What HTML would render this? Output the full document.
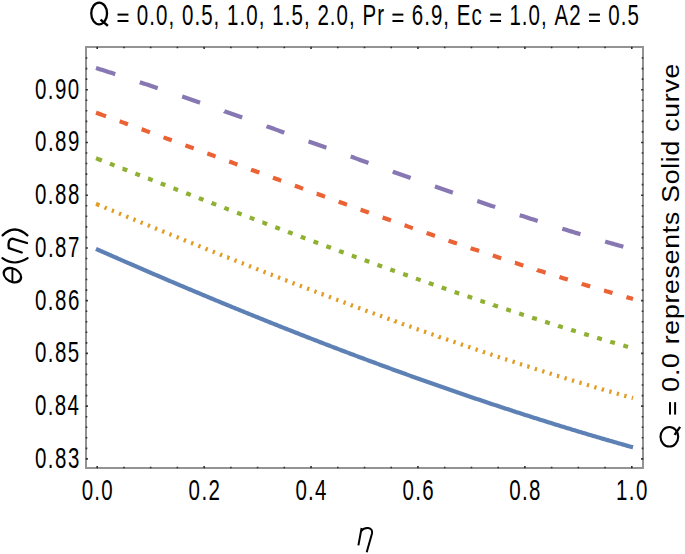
<!DOCTYPE html>
<html><head><meta charset="utf-8"><style>html,body{margin:0;padding:0;background:#fff;overflow:hidden}svg{display:block}</style></head>
<body><svg width="685" height="554" viewBox="0 0 685 554">
<rect width="685" height="554" fill="#fff"/>
<rect x="86" y="47" width="557" height="421" fill="none" stroke="#939393" stroke-width="2"/>
<path d="M97.20,468.3v-2.1999999999999997M97.20,46.7v2.1999999999999997M123.93,468.3v-1.6M123.93,46.7v1.6M150.66,468.3v-1.6M150.66,46.7v1.6M177.39,468.3v-1.6M177.39,46.7v1.6M204.12,468.3v-2.1999999999999997M204.12,46.7v2.1999999999999997M230.85,468.3v-1.6M230.85,46.7v1.6M257.58,468.3v-1.6M257.58,46.7v1.6M284.31,468.3v-1.6M284.31,46.7v1.6M311.04,468.3v-2.1999999999999997M311.04,46.7v2.1999999999999997M337.77,468.3v-1.6M337.77,46.7v1.6M364.50,468.3v-1.6M364.50,46.7v1.6M391.23,468.3v-1.6M391.23,46.7v1.6M417.96,468.3v-2.1999999999999997M417.96,46.7v2.1999999999999997M444.69,468.3v-1.6M444.69,46.7v1.6M471.42,468.3v-1.6M471.42,46.7v1.6M498.15,468.3v-1.6M498.15,46.7v1.6M524.88,468.3v-2.1999999999999997M524.88,46.7v2.1999999999999997M551.61,468.3v-1.6M551.61,46.7v1.6M578.34,468.3v-1.6M578.34,46.7v1.6M605.07,468.3v-1.6M605.07,46.7v1.6M631.80,468.3v-2.1999999999999997M631.80,46.7v2.1999999999999997M85.7,458.90h2.1999999999999997M643.3,458.90h-2.1999999999999997M85.7,448.35h1.6M643.3,448.35h-1.6M85.7,437.80h1.6M643.3,437.80h-1.6M85.7,427.25h1.6M643.3,427.25h-1.6M85.7,416.71h1.6M643.3,416.71h-1.6M85.7,406.16h2.1999999999999997M643.3,406.16h-2.1999999999999997M85.7,395.61h1.6M643.3,395.61h-1.6M85.7,385.06h1.6M643.3,385.06h-1.6M85.7,374.51h1.6M643.3,374.51h-1.6M85.7,363.96h1.6M643.3,363.96h-1.6M85.7,353.41h2.1999999999999997M643.3,353.41h-2.1999999999999997M85.7,342.87h1.6M643.3,342.87h-1.6M85.7,332.32h1.6M643.3,332.32h-1.6M85.7,321.77h1.6M643.3,321.77h-1.6M85.7,311.22h1.6M643.3,311.22h-1.6M85.7,300.67h2.1999999999999997M643.3,300.67h-2.1999999999999997M85.7,290.12h1.6M643.3,290.12h-1.6M85.7,279.57h1.6M643.3,279.57h-1.6M85.7,269.03h1.6M643.3,269.03h-1.6M85.7,258.48h1.6M643.3,258.48h-1.6M85.7,247.93h2.1999999999999997M643.3,247.93h-2.1999999999999997M85.7,237.38h1.6M643.3,237.38h-1.6M85.7,226.83h1.6M643.3,226.83h-1.6M85.7,216.28h1.6M643.3,216.28h-1.6M85.7,205.73h1.6M643.3,205.73h-1.6M85.7,195.19h2.1999999999999997M643.3,195.19h-2.1999999999999997M85.7,184.64h1.6M643.3,184.64h-1.6M85.7,174.09h1.6M643.3,174.09h-1.6M85.7,163.54h1.6M643.3,163.54h-1.6M85.7,152.99h1.6M643.3,152.99h-1.6M85.7,142.44h2.1999999999999997M643.3,142.44h-2.1999999999999997M85.7,131.89h1.6M643.3,131.89h-1.6M85.7,121.35h1.6M643.3,121.35h-1.6M85.7,110.80h1.6M643.3,110.80h-1.6M85.7,100.25h1.6M643.3,100.25h-1.6M85.7,89.70h2.1999999999999997M643.3,89.70h-2.1999999999999997M85.7,79.15h1.6M643.3,79.15h-1.6M85.7,68.60h1.6M643.3,68.60h-1.6M85.7,58.05h1.6M643.3,58.05h-1.6" stroke="#2e2e2e" stroke-width="1.6" fill="none"/>
<g fill="none" stroke-width="4.2" stroke-linecap="butt" stroke-linejoin="round"><path d="M96.00,248.90 L96.18,248.98 L97.61,249.61 L99.04,250.24 L100.48,250.88 L101.91,251.51 L103.34,252.14 L104.77,252.77 L106.21,253.40 L107.64,254.03 L109.07,254.66 L110.50,255.29 L111.94,255.92 L113.37,256.55 L114.80,257.18 L116.23,257.80 L117.67,258.43 L119.10,259.06 L120.53,259.68 L121.96,260.31 L123.40,260.93 L124.83,261.56 L126.26,262.18 L127.69,262.81 L129.13,263.43 L130.56,264.05 L131.99,264.68 L133.42,265.30 L134.86,265.92 L136.29,266.54 L137.72,267.16 L139.15,267.78 L140.59,268.40 L142.02,269.02 L143.45,269.64 L144.88,270.26 L146.32,270.88 L147.75,271.49 L149.18,272.11 L150.61,272.73 L152.05,273.34 L153.48,273.96 L154.91,274.57 L156.34,275.19 L157.78,275.80 L159.21,276.42 L160.64,277.03 L162.07,277.64 L163.51,278.26 L164.94,278.87 L166.37,279.48 L167.80,280.09 L169.24,280.70 L170.67,281.31 L172.10,281.92 L173.53,282.53 L174.97,283.14 L176.40,283.75 L177.83,284.35 L179.26,284.96 L180.70,285.57 L182.13,286.17 L183.56,286.78 L184.99,287.38 L186.43,287.99 L187.86,288.59 L189.29,289.20 L190.72,289.80 L192.16,290.40 L193.59,291.00 L195.02,291.61 L196.45,292.21 L197.88,292.81 L199.32,293.41 L200.75,294.01 L202.18,294.61 L203.61,295.21 L205.05,295.80 L206.48,296.40 L207.91,297.00 L209.34,297.59 L210.78,298.19 L212.21,298.79 L213.64,299.38 L215.07,299.98 L216.51,300.57 L217.94,301.16 L219.37,301.76 L220.80,302.35 L222.24,302.94 L223.67,303.53 L225.10,304.12 L226.53,304.71 L227.97,305.30 L229.40,305.89 L230.83,306.48 L232.26,307.07 L233.70,307.66 L235.13,308.25 L236.56,308.83 L237.99,309.42 L239.43,310.01 L240.86,310.59 L242.29,311.18 L243.72,311.76 L245.16,312.34 L246.59,312.93 L248.02,313.51 L249.45,314.09 L250.89,314.67 L252.32,315.25 L253.75,315.83 L255.18,316.41 L256.62,316.99 L258.05,317.57 L259.48,318.15 L260.91,318.73 L262.35,319.30 L263.78,319.88 L265.21,320.46 L266.64,321.03 L268.08,321.61 L269.51,322.18 L270.94,322.76 L272.37,323.33 L273.81,323.90 L275.24,324.47 L276.67,325.05 L278.10,325.62 L279.54,326.19 L280.97,326.76 L282.40,327.33 L283.83,327.90 L285.27,328.46 L286.70,329.03 L288.13,329.60 L289.56,330.17 L291.00,330.73 L292.43,331.30 L293.86,331.86 L295.29,332.43 L296.73,332.99 L298.16,333.55 L299.59,334.12 L301.02,334.68 L302.46,335.24 L303.89,335.80 L305.32,336.36 L306.75,336.92 L308.19,337.48 L309.62,338.04 L311.05,338.60 L312.48,339.15 L313.92,339.71 L315.35,340.27 L316.78,340.82 L318.21,341.38 L319.65,341.93 L321.08,342.49 L322.51,343.04 L323.94,343.59 L325.38,344.14 L326.81,344.70 L328.24,345.25 L329.67,345.80 L331.11,346.35 L332.54,346.90 L333.97,347.44 L335.40,347.99 L336.84,348.54 L338.27,349.09 L339.70,349.63 L341.13,350.18 L342.57,350.72 L344.00,351.27 L345.43,351.81 L346.86,352.36 L348.30,352.90 L349.73,353.44 L351.16,353.98 L352.59,354.52 L354.03,355.06 L355.46,355.60 L356.89,356.14 L358.32,356.68 L359.75,357.22 L361.19,357.75 L362.62,358.29 L364.05,358.83 L365.48,359.36 L366.92,359.90 L368.35,360.43 L369.78,360.96 L371.21,361.50 L372.65,362.03 L374.08,362.56 L375.51,363.09 L376.94,363.62 L378.38,364.15 L379.81,364.68 L381.24,365.21 L382.67,365.74 L384.11,366.26 L385.54,366.79 L386.97,367.32 L388.40,367.84 L389.84,368.37 L391.27,368.89 L392.70,369.41 L394.13,369.94 L395.57,370.46 L397.00,370.98 L398.43,371.50 L399.86,372.02 L401.30,372.54 L402.73,373.06 L404.16,373.58 L405.59,374.09 L407.03,374.61 L408.46,375.13 L409.89,375.64 L411.32,376.16 L412.76,376.67 L414.19,377.19 L415.62,377.70 L417.05,378.21 L418.49,378.72 L419.92,379.23 L421.35,379.74 L422.78,380.25 L424.22,380.76 L425.65,381.27 L427.08,381.78 L428.51,382.29 L429.95,382.79 L431.38,383.30 L432.81,383.80 L434.24,384.31 L435.68,384.81 L437.11,385.31 L438.54,385.82 L439.97,386.32 L441.41,386.82 L442.84,387.32 L444.27,387.82 L445.70,388.32 L447.14,388.82 L448.57,389.31 L450.00,389.81 L451.43,390.31 L452.87,390.80 L454.30,391.30 L455.73,391.79 L457.16,392.29 L458.60,392.78 L460.03,393.27 L461.46,393.76 L462.89,394.25 L464.33,394.74 L465.76,395.23 L467.19,395.72 L468.62,396.21 L470.06,396.70 L471.49,397.18 L472.92,397.67 L474.35,398.16 L475.79,398.64 L477.22,399.12 L478.65,399.61 L480.08,400.09 L481.52,400.57 L482.95,401.05 L484.38,401.53 L485.81,402.01 L487.25,402.49 L488.68,402.97 L490.11,403.45 L491.54,403.93 L492.98,404.40 L494.41,404.88 L495.84,405.35 L497.27,405.83 L498.71,406.30 L500.14,406.77 L501.57,407.24 L503.00,407.71 L504.44,408.19 L505.87,408.66 L507.30,409.12 L508.73,409.59 L510.17,410.06 L511.60,410.53 L513.03,410.99 L514.46,411.46 L515.89,411.92 L517.33,412.39 L518.76,412.85 L520.19,413.31 L521.62,413.78 L523.06,414.24 L524.49,414.70 L525.92,415.16 L527.35,415.62 L528.79,416.07 L530.22,416.53 L531.65,416.99 L533.08,417.44 L534.52,417.90 L535.95,418.35 L537.38,418.81 L538.81,419.26 L540.25,419.71 L541.68,420.16 L543.11,420.61 L544.54,421.06 L545.98,421.51 L547.41,421.96 L548.84,422.41 L550.27,422.86 L551.71,423.30 L553.14,423.75 L554.57,424.19 L556.00,424.64 L557.44,425.08 L558.87,425.52 L560.30,425.97 L561.73,426.41 L563.17,426.85 L564.60,427.29 L566.03,427.73 L567.46,428.16 L568.90,428.60 L570.33,429.04 L571.76,429.47 L573.19,429.91 L574.63,430.34 L576.06,430.77 L577.49,431.21 L578.92,431.64 L580.36,432.07 L581.79,432.50 L583.22,432.93 L584.65,433.36 L586.09,433.79 L587.52,434.21 L588.95,434.64 L590.38,435.07 L591.82,435.49 L593.25,435.92 L594.68,436.34 L596.11,436.76 L597.55,437.18 L598.98,437.60 L600.41,438.02 L601.84,438.44 L603.28,438.86 L604.71,439.28 L606.14,439.70 L607.57,440.11 L609.01,440.53 L610.44,440.94 L611.87,441.36 L613.30,441.77 L614.74,442.18 L616.17,442.59 L617.60,443.01 L619.03,443.42 L620.47,443.82 L621.90,444.23 L623.33,444.64 L624.76,445.05 L626.20,445.45 L627.63,445.86 L629.06,446.26 L630.49,446.67 L631.93,447.07 L633.00,447.37" stroke="#5E81B5"/><path d="M96.00,203.84 L96.18,203.91 L97.61,204.51 L99.04,205.10 L99.53,205.30 M104.60,207.40 L104.77,207.48 L106.21,208.07 L106.72,208.29 M111.79,210.39 L111.94,210.44 L113.37,211.04 L113.92,211.26 M118.99,213.36 L119.10,213.41 L120.53,214.00 L121.12,214.24 M126.19,216.33 L126.26,216.36 L127.69,216.95 L128.32,217.21 M133.39,219.30 L133.42,219.31 L134.86,219.90 L135.52,220.17 M140.60,222.26 L140.76,222.33 L142.20,222.92 L142.73,223.13 M147.80,225.22 L147.93,225.27 L149.36,225.85 L149.93,226.09 M155.01,228.17 L155.09,228.20 L156.52,228.78 L157.14,229.04 M162.22,231.11 L162.25,231.12 L163.68,231.71 L164.35,231.98 M169.44,234.05 L169.59,234.11 L171.03,234.70 L171.57,234.92 M176.65,236.98 L176.76,237.02 L178.19,237.60 L178.78,237.85 M183.87,239.91 L183.92,239.93 L185.35,240.51 L186.00,240.77 M191.09,242.83 L191.26,242.89 L192.69,243.47 L193.23,243.69 M198.32,245.74 L198.42,245.78 L199.85,246.36 L200.45,246.60 M205.54,248.64 L205.58,248.66 L207.02,249.24 L207.68,249.50 M212.77,251.54 L212.93,251.60 L214.36,252.18 L214.91,252.40 M220.01,254.43 L220.09,254.47 L221.52,255.04 L222.14,255.29 M227.24,257.32 L227.25,257.32 L228.68,257.89 L229.38,258.17 M234.48,260.19 L234.59,260.24 L236.02,260.81 L236.62,261.04 M241.72,263.06 L241.75,263.07 L243.19,263.64 L243.86,263.91 M248.97,265.92 L249.10,265.97 L250.53,266.53 L251.11,266.76 M256.22,268.77 L256.26,268.79 L257.69,269.35 L258.36,269.61 M263.47,271.61 L263.60,271.66 L265.03,272.22 L265.61,272.45 M270.72,274.45 L270.76,274.46 L272.19,275.02 L272.87,275.28 M277.98,277.27 L278.10,277.32 L279.54,277.87 L280.13,278.10 M285.24,280.09 L285.27,280.09 L286.70,280.65 L287.39,280.92 M292.51,282.89 L292.61,282.93 L294.04,283.48 L294.66,283.72 M299.78,285.69 L299.95,285.75 L301.38,286.30 L301.93,286.51 M307.05,288.47 L307.11,288.49 L308.54,289.04 L309.20,289.29 M314.33,291.25 L314.45,291.29 L315.89,291.84 L316.48,292.07 M321.61,294.01 L321.62,294.01 L323.05,294.56 L323.76,294.83 M328.90,296.77 L328.96,296.79 L330.39,297.33 L331.05,297.58 M336.19,299.51 L336.30,299.55 L337.73,300.09 L338.34,300.32 M343.48,302.25 L343.64,302.31 L345.07,302.84 L345.64,303.05 M350.78,304.97 L350.80,304.98 L352.23,305.51 L352.94,305.77 M358.08,307.68 L358.14,307.70 L359.58,308.23 L360.24,308.48 M365.39,310.38 L365.48,310.41 L366.92,310.94 L367.55,311.17 M372.70,313.06 L372.83,313.11 L374.26,313.64 L374.86,313.86 M380.02,315.74 L380.17,315.79 L381.60,316.32 L382.18,316.53 M387.34,318.40 L387.51,318.46 L388.94,318.98 L389.50,319.18 M394.66,321.05 L394.67,321.06 L396.10,321.57 L396.82,321.83 M401.99,323.69 L402.01,323.70 L403.45,324.21 L404.15,324.46 M409.32,326.31 L409.35,326.32 L410.79,326.83 L411.49,327.08 M416.66,328.92 L416.70,328.93 L418.13,329.44 L418.83,329.69 M424.00,331.52 L424.04,331.53 L425.47,332.04 L426.17,332.28 M431.35,334.10 L431.38,334.11 L432.81,334.61 L433.52,334.86 M438.71,336.67 L438.72,336.68 L440.15,337.18 L440.88,337.43 M446.06,339.23 L446.24,339.29 L447.67,339.78 L448.24,339.98 M453.43,341.77 L453.58,341.82 L455.01,342.31 L455.60,342.52 M460.79,344.29 L460.92,344.34 L462.36,344.83 L462.97,345.04 M468.17,346.81 L468.27,346.84 L469.70,347.32 L470.35,347.54 M475.55,349.30 L475.61,349.32 L477.04,349.80 L477.73,350.04 M482.93,351.78 L482.95,351.79 L484.38,352.27 L485.11,352.51 M490.32,354.25 L490.47,354.30 L491.90,354.77 L492.50,354.97 M497.71,356.70 L497.81,356.73 L499.24,357.20 L499.90,357.42 M505.11,359.13 L505.15,359.14 L506.58,359.61 L507.30,359.84 M512.52,361.55 L512.67,361.60 L514.10,362.06 L514.70,362.26 M519.93,363.95 L520.01,363.97 L521.45,364.44 L522.11,364.65 M527.34,366.33 L527.35,366.33 L528.79,366.79 L529.53,367.03 M534.76,368.69 L534.88,368.73 L536.31,369.19 L536.95,369.39 M542.19,371.04 L542.22,371.05 L543.65,371.50 L544.38,371.73 M549.62,373.37 L549.74,373.41 L551.17,373.86 L551.82,374.06 M557.06,375.69 L557.08,375.69 L558.51,376.14 L559.26,376.37 M564.50,377.98 L564.60,378.01 L566.03,378.45 L566.70,378.66 M571.95,380.26 L572.12,380.31 L573.55,380.75 L574.15,380.93 M579.41,382.52 L579.46,382.53 L580.89,382.96 L581.61,383.18 M586.87,384.75 L586.98,384.79 L588.41,385.22 L589.07,385.41 M594.33,386.97 L594.50,387.03 L595.93,387.45 L596.54,387.63 M601.80,389.17 L601.84,389.19 L603.28,389.61 L604.01,389.82 M609.28,391.36 L609.36,391.38 L610.80,391.79 L611.49,392.00 M616.76,393.52 L616.88,393.55 L618.32,393.96 L618.98,394.15 M624.25,395.66 L624.41,395.70 L625.84,396.11 L626.47,396.28 M631.75,397.78 L631.93,397.82 L633.00,398.13" stroke="#E19C24"/><path d="M96.00,158.25 L96.18,158.32 L97.61,158.88 L99.04,159.43 L100.48,159.99 L101.85,160.52 M109.98,163.68 L110.15,163.75 L111.58,164.30 L113.01,164.86 L114.44,165.42 L114.54,165.46 M122.67,168.62 L122.68,168.62 L124.11,169.17 L125.54,169.73 L126.98,170.29 L127.24,170.39 M135.37,173.54 L135.39,173.55 L136.83,174.11 L138.26,174.67 L139.69,175.22 L139.94,175.32 M148.07,178.47 L148.11,178.48 L149.54,179.04 L150.97,179.59 L152.40,180.15 L152.64,180.24 M160.77,183.39 L160.82,183.41 L162.25,183.96 L163.68,184.51 L165.12,185.07 L165.34,185.15 M173.47,188.30 L173.53,188.32 L174.97,188.87 L176.40,189.43 L177.83,189.98 L178.04,190.06 M186.18,193.20 L186.25,193.23 L187.68,193.78 L189.11,194.33 L190.54,194.88 L190.75,194.96 M198.89,198.09 L198.96,198.12 L200.39,198.67 L201.82,199.22 L203.26,199.77 L203.46,199.85 M211.61,202.97 L211.67,203.00 L213.11,203.55 L214.54,204.10 L215.97,204.65 L216.18,204.73 M224.33,207.84 L224.39,207.87 L225.82,208.41 L227.25,208.96 L228.68,209.51 L228.90,209.59 M237.05,212.70 L237.10,212.72 L238.53,213.26 L239.96,213.81 L241.40,214.35 L241.63,214.44 M249.78,217.54 L249.81,217.55 L251.24,218.10 L252.68,218.64 L254.11,219.18 L254.36,219.28 M262.52,222.37 L262.53,222.37 L263.96,222.91 L265.39,223.45 L266.82,223.99 L267.10,224.10 M275.26,227.17 L275.42,227.23 L276.85,227.77 L278.28,228.31 L279.72,228.85 L279.85,228.90 M288.01,231.96 L288.13,232.01 L289.56,232.54 L291.00,233.08 L292.43,233.62 L292.60,233.68 M300.77,236.73 L300.84,236.76 L302.28,237.29 L303.71,237.83 L305.14,238.36 L305.36,238.44 M313.53,241.48 L313.56,241.49 L314.99,242.02 L316.42,242.55 L317.85,243.08 L318.13,243.18 M326.31,246.21 L326.45,246.26 L327.88,246.79 L329.31,247.32 L330.75,247.84 L330.91,247.90 M339.09,250.91 L339.16,250.94 L340.60,251.46 L342.03,251.99 L343.46,252.51 L343.69,252.59 M351.88,255.59 L352.06,255.65 L353.49,256.17 L354.92,256.69 L356.35,257.21 L356.49,257.26 M364.68,260.24 L364.77,260.27 L366.20,260.79 L367.63,261.30 L369.07,261.82 L369.29,261.90 M377.49,264.86 L377.66,264.92 L379.09,265.44 L380.53,265.95 L381.96,266.46 L382.11,266.52 M390.32,269.45 L390.37,269.47 L391.81,269.99 L393.24,270.50 L394.67,271.01 L394.93,271.10 M403.15,274.02 L403.27,274.06 L404.70,274.57 L406.13,275.07 L407.56,275.58 L407.77,275.65 M415.99,278.55 L416.16,278.61 L417.59,279.11 L419.02,279.61 L420.46,280.12 L420.62,280.17 M428.85,283.05 L428.87,283.06 L430.30,283.55 L431.74,284.05 L433.17,284.55 L433.48,284.66 M441.72,287.51 L441.76,287.53 L443.20,288.02 L444.63,288.52 L446.06,289.01 L446.35,289.11 M454.60,291.94 L454.66,291.96 L456.09,292.45 L457.52,292.94 L458.95,293.43 L459.23,293.52 M467.49,296.33 L467.55,296.35 L468.98,296.83 L470.41,297.32 L471.85,297.80 L472.13,297.90 M480.40,300.68 L480.44,300.69 L481.87,301.17 L483.31,301.65 L484.74,302.13 L485.04,302.23 M493.32,304.99 L493.33,305.00 L494.77,305.47 L496.20,305.95 L497.63,306.42 L497.97,306.53 M506.25,309.26 L506.40,309.31 L507.84,309.78 L509.27,310.25 L510.70,310.72 L510.91,310.78 M519.20,313.48 L519.30,313.51 L520.73,313.98 L522.16,314.44 L523.59,314.91 L523.86,314.99 M532.16,317.66 L532.19,317.67 L533.62,318.13 L535.05,318.59 L536.49,319.05 L536.83,319.15 M545.14,321.80 L545.26,321.83 L546.69,322.29 L548.13,322.74 L549.56,323.19 L549.81,323.27 M558.13,325.88 L558.15,325.89 L559.59,326.33 L561.02,326.78 L562.45,327.23 L562.81,327.34 M571.14,329.91 L571.22,329.94 L572.66,330.38 L574.09,330.82 L575.52,331.26 L575.82,331.35 M584.17,333.90 L584.30,333.94 L585.73,334.37 L587.16,334.81 L588.59,335.24 L588.86,335.32 M597.21,337.83 L597.37,337.88 L598.80,338.30 L600.23,338.73 L601.66,339.16 L601.90,339.23 M610.26,341.70 L610.44,341.76 L611.87,342.18 L613.30,342.60 L614.74,343.02 L614.96,343.08 M623.34,345.52 L623.51,345.57 L624.94,345.99 L626.37,346.40 L627.81,346.81 L628.04,346.88" stroke="#8FB032"/><path d="M96.00,112.74 L96.18,112.80 L97.61,113.32 L99.04,113.83 L100.48,114.35 L101.91,114.86 L103.34,115.38 L104.77,115.90 L106.04,116.35 M119.70,121.30 L119.81,121.34 L121.25,121.86 L122.68,122.38 L124.11,122.90 L125.54,123.42 L126.98,123.94 L127.97,124.30 M141.62,129.28 L141.66,129.29 L143.09,129.81 L144.53,130.34 L145.96,130.86 L147.39,131.39 L148.82,131.91 L149.89,132.30 M163.53,137.30 L163.68,137.36 L165.12,137.88 L166.55,138.41 L167.98,138.94 L169.41,139.46 L170.85,139.99 L171.79,140.33 M185.42,145.35 L185.53,145.39 L186.96,145.92 L188.39,146.45 L189.83,146.98 L191.26,147.50 L192.69,148.03 L193.68,148.40 M207.31,153.43 L207.38,153.45 L208.81,153.98 L210.24,154.51 L211.67,155.04 L213.11,155.57 L214.54,156.10 L215.56,156.47 M229.19,161.51 L229.22,161.52 L230.65,162.05 L232.09,162.58 L233.52,163.11 L234.95,163.64 L236.38,164.17 L237.44,164.56 M251.07,169.59 L251.24,169.66 L252.68,170.19 L254.11,170.71 L255.54,171.24 L256.97,171.77 L258.41,172.30 L259.32,172.64 M272.95,177.66 L273.09,177.71 L274.52,178.24 L275.95,178.77 L277.39,179.30 L278.82,179.82 L280.25,180.35 L281.21,180.70 M294.85,185.72 L294.94,185.75 L296.37,186.27 L297.80,186.80 L299.23,187.32 L300.67,187.85 L302.10,188.37 L303.11,188.74 M316.75,193.74 L316.78,193.74 L318.21,194.27 L319.65,194.79 L321.08,195.31 L322.51,195.84 L323.94,196.36 L325.02,196.75 M338.67,201.71 L338.80,201.76 L340.24,202.28 L341.67,202.80 L343.10,203.32 L344.53,203.84 L345.97,204.36 L346.95,204.71 M360.61,209.64 L360.65,209.65 L362.08,210.17 L363.52,210.68 L364.95,211.20 L366.38,211.71 L367.81,212.23 L368.89,212.62 M382.57,217.51 L382.67,217.54 L384.11,218.05 L385.54,218.56 L386.97,219.07 L388.40,219.58 L389.84,220.09 L390.86,220.46 M404.56,225.30 L404.70,225.35 L406.13,225.85 L407.56,226.36 L409.00,226.86 L410.43,227.37 L411.86,227.87 L412.86,228.22 M426.58,233.01 L426.72,233.06 L428.16,233.56 L429.59,234.06 L431.02,234.56 L432.45,235.05 L433.89,235.55 L434.89,235.90 M448.62,240.63 L448.75,240.68 L450.18,241.17 L451.61,241.66 L453.05,242.15 L454.48,242.64 L455.91,243.13 L456.95,243.48 M470.70,248.15 L470.77,248.18 L472.20,248.66 L473.64,249.14 L475.07,249.63 L476.50,250.11 L477.93,250.59 L479.04,250.96 M492.82,255.56 L492.98,255.61 L494.41,256.09 L495.84,256.56 L497.27,257.04 L498.71,257.51 L500.14,257.98 L501.18,258.32 M514.98,262.85 L515.00,262.85 L516.43,263.32 L517.86,263.78 L519.30,264.25 L520.73,264.71 L522.16,265.18 L523.35,265.56 M537.19,270.00 L537.20,270.01 L538.64,270.46 L540.07,270.92 L541.50,271.37 L542.93,271.83 L544.37,272.28 L545.57,272.66 M559.43,277.01 L559.59,277.06 L561.02,277.51 L562.45,277.95 L563.88,278.39 L565.32,278.84 L566.75,279.28 L567.84,279.62 M581.73,283.87 L581.79,283.89 L583.22,284.32 L584.65,284.76 L586.09,285.19 L587.52,285.62 L588.95,286.05 L590.15,286.42 M604.08,290.57 L604.17,290.59 L605.60,291.02 L607.04,291.44 L608.47,291.86 L609.90,292.28 L611.33,292.70 L612.52,293.05 M626.47,297.08 L626.55,297.11 L627.99,297.52 L629.42,297.93 L630.85,298.34 L632.28,298.75 L633.00,298.95" stroke="#EB6235"/><path d="M96.00,67.96 L96.18,68.02 L97.61,68.47 L99.04,68.92 L100.48,69.38 L101.91,69.84 L103.34,70.29 L104.77,70.75 L106.21,71.21 L107.64,71.67 L109.07,72.13 L110.50,72.59 L111.94,73.05 L113.37,73.52 L114.80,73.98 L115.25,74.12 M139.78,82.18 L139.87,82.21 L141.30,82.68 L142.73,83.16 L144.17,83.64 L145.60,84.12 L147.03,84.59 L148.46,85.07 L149.90,85.55 L151.33,86.03 L152.76,86.52 L154.19,87.00 L155.63,87.48 L157.06,87.96 L157.70,88.18 M182.15,96.52 L182.31,96.57 L183.74,97.06 L185.17,97.56 L186.60,98.05 L188.04,98.55 L189.47,99.04 L190.90,99.54 L192.33,100.03 L193.77,100.53 L195.20,101.03 L196.63,101.53 L198.06,102.02 L199.50,102.52 L200.01,102.70 M224.38,111.24 L224.39,111.25 L225.82,111.75 L227.25,112.26 L228.68,112.76 L230.12,113.27 L231.55,113.78 L232.98,114.28 L234.41,114.79 L235.85,115.30 L237.28,115.81 L238.71,116.31 L240.14,116.82 L241.58,117.33 L242.19,117.55 M266.52,126.23 L266.64,126.28 L268.08,126.79 L269.51,127.30 L270.94,127.82 L272.37,128.33 L273.81,128.85 L275.24,129.36 L276.67,129.87 L278.10,130.39 L279.54,130.90 L280.97,131.42 L282.40,131.93 L283.83,132.45 L284.30,132.62 M308.60,141.37 L308.72,141.41 L310.16,141.93 L311.59,142.44 L313.02,142.96 L314.45,143.48 L315.89,143.99 L317.32,144.51 L318.75,145.02 L320.18,145.54 L321.62,146.06 L323.05,146.57 L324.48,147.09 L325.91,147.61 L326.38,147.78 M350.68,156.53 L350.80,156.57 L352.23,157.09 L353.67,157.60 L355.10,158.12 L356.53,158.63 L357.96,159.15 L359.40,159.66 L360.83,160.18 L362.26,160.69 L363.69,161.20 L365.13,161.72 L366.56,162.23 L367.99,162.75 L368.47,162.92 M392.79,171.60 L392.88,171.64 L394.31,172.15 L395.75,172.65 L397.18,173.16 L398.61,173.67 L400.04,174.18 L401.48,174.69 L402.91,175.20 L404.34,175.70 L405.77,176.21 L407.21,176.72 L408.64,177.23 L410.07,177.73 L410.60,177.92 M434.97,186.47 L435.14,186.53 L436.57,187.03 L438.00,187.53 L439.44,188.03 L440.87,188.53 L442.30,189.03 L443.73,189.52 L445.17,190.02 L446.60,190.52 L448.03,191.01 L449.46,191.51 L450.90,192.00 L452.33,192.50 L452.82,192.67 M477.26,201.03 L477.40,201.07 L478.83,201.56 L480.26,202.04 L481.69,202.53 L483.13,203.01 L484.56,203.49 L485.99,203.97 L487.42,204.46 L488.86,204.94 L490.29,205.42 L491.72,205.90 L493.15,206.38 L494.59,206.86 L495.17,207.05 M519.70,215.14 L519.83,215.18 L521.27,215.65 L522.70,216.11 L524.13,216.58 L525.56,217.04 L527.00,217.51 L528.43,217.97 L529.86,218.43 L531.29,218.89 L532.73,219.35 L534.16,219.81 L535.59,220.27 L537.02,220.73 L537.69,220.94 M562.32,228.69 L562.45,228.73 L563.88,229.17 L565.32,229.61 L566.75,230.05 L568.18,230.49 L569.61,230.93 L571.05,231.37 L572.48,231.81 L573.91,232.25 L575.34,232.68 L576.78,233.12 L578.21,233.55 L579.64,233.98 L580.40,234.21 M605.16,241.54 L605.25,241.57 L606.68,241.98 L608.11,242.40 L609.54,242.81 L610.98,243.22 L612.41,243.63 L613.84,244.04 L615.27,244.45 L616.71,244.86 L618.14,245.27 L619.57,245.67 L621.00,246.08 L622.44,246.48 L623.33,246.73" stroke="#8778B3"/></g>
<g font-family="Liberation Sans, sans-serif" fill="#000">
<text xml:space="preserve" x="51.62 70.61 81.19 100.17" y="467.90" transform="scale(0.678,1)" font-size="30.2" >0.83</text><text xml:space="preserve" x="51.62 70.46 80.89 99.72" y="415.16" transform="scale(0.678,1)" font-size="30.2" >0.84</text><text xml:space="preserve" x="51.62 70.59 81.15 100.11" y="362.41" transform="scale(0.678,1)" font-size="30.2" >0.85</text><text xml:space="preserve" x="51.62 70.61 81.19 100.17" y="309.67" transform="scale(0.678,1)" font-size="30.2" >0.86</text><text xml:space="preserve" x="51.62 70.67 81.31 100.35" y="256.93" transform="scale(0.678,1)" font-size="30.2" >0.87</text><text xml:space="preserve" x="51.62 70.60 81.17 100.14" y="204.19" transform="scale(0.678,1)" font-size="30.2" >0.88</text><text xml:space="preserve" x="51.62 70.64 81.25 100.26" y="151.44" transform="scale(0.678,1)" font-size="30.2" >0.89</text><text xml:space="preserve" x="51.62 70.56 81.09 100.02" y="98.70" transform="scale(0.678,1)" font-size="30.2" >0.90</text><text xml:space="preserve" x="120.50 139.17 149.43" y="500.40" transform="scale(0.678,1)" font-size="30.2" >0.0</text><text xml:space="preserve" x="278.20 297.04 307.46" y="500.40" transform="scale(0.678,1)" font-size="30.2" >0.2</text><text xml:space="preserve" x="435.90 454.42 464.53" y="500.40" transform="scale(0.678,1)" font-size="30.2" >0.4</text><text xml:space="preserve" x="593.60 612.34 622.68" y="500.40" transform="scale(0.678,1)" font-size="30.2" >0.6</text><text xml:space="preserve" x="751.30 770.03 780.35" y="500.40" transform="scale(0.678,1)" font-size="30.2" >0.8</text><text xml:space="preserve" x="908.62 927.48 937.93" y="500.40" transform="scale(0.678,1)" font-size="30.2" >1.0</text><text xml:space="preserve" x="191.77 201.73 220.09 230.05 248.42 258.38 268.33 286.70 296.66 315.02 324.98 334.94 353.31 363.27 381.63 391.59 401.55 419.92 429.88 448.24 458.20 468.16 486.52 496.48 514.85 524.81 534.77 556.48 568.11 597.27 607.23 625.60 635.56 653.92 663.88 673.84 695.55 712.22 741.39 751.35 769.71 779.67 798.03 807.99 817.95 839.67 858.03 887.20 897.16 915.52 925.48" y="25.40" transform="scale(0.678,1)" font-size="30.2" > 0.0, 0.5, 1.0, 1.5, 2.0, Pr  6.9, Ec  1.0, A2  0.5</text><rect x="117.53" y="13.60" width="10.90" height="2.00"/><rect x="117.53" y="20.00" width="10.90" height="2.00"/><rect x="392.46" y="13.60" width="10.90" height="2.00"/><rect x="392.46" y="20.00" width="10.90" height="2.00"/><rect x="490.17" y="13.60" width="10.90" height="2.00"/><rect x="490.17" y="20.00" width="10.90" height="2.00"/><rect x="589.03" y="13.60" width="10.90" height="2.00"/><rect x="589.03" y="20.00" width="10.90" height="2.00"/>
<g fill="none" stroke="#000" stroke-width="2.1" transform="translate(679.2,448.4) rotate(-90)"><ellipse cx="11.6" cy="-9.85" rx="9.75" ry="8.85"/><path d="M13.6,-4.6 L21.6,0.9" stroke-width="2.3"/></g><g transform="translate(679.2,448.4) rotate(-90)"><text xml:space="preserve" x="43.38 50.66 64.54 71.82 85.70 92.99 101.58 115.46 129.34 137.93 151.81 164.36 178.24 192.12 199.40 211.95 219.23 235.74 249.62 255.58 261.55 275.42 282.71 295.26 309.14 317.73 330.28" y="0.00" transform="scale(1.12,1)" font-size="23.7" > 0.0 represents Solid curve</text><rect x="33.85" y="-10.20" width="12.40" height="2.00"/><rect x="33.85" y="-5.10" width="12.40" height="2.00"/></g>
<g fill="none" stroke="#000" stroke-linecap="round">
<path d="M2.6,235.4 Q14.5,223.6 27.4,235.4" stroke-width="2.2"/>
<path d="M2.4,258.2 Q14.4,266.8 27.6,258.2" stroke-width="2.2"/>
<path d="M21.8,252.5 L8.9,248.2 C8.0,243.5 8.6,239.0 12.3,238.6 L27.0,243.0" stroke-width="2.3" stroke-linejoin="round"/>
<g transform="translate(12.4,275.2) skewY(12)"><ellipse cx="0" cy="0" rx="8.7" ry="6.9" stroke-width="2.3"/><path d="M0,-6.9 V6.9" stroke-width="1.9"/></g>
</g>
<path d="M358.4,545.4 L361.6,528.0 M361.1,531.2 C362.8,528.6 365.5,527.9 368.2,528.1 C371.2,528.4 372.6,530.4 372.0,533.4 L366.7,552.2" fill="none" stroke="#000" stroke-width="2.0" stroke-linejoin="round"/>
</g>
<g fill="none" stroke="#000" stroke-width="2.3"><ellipse cx="99.15" cy="13.45" rx="7.9" ry="10.9"/><path d="M100.6,19.6 L107.9,25.9" stroke-width="2.5"/></g>
</svg></body></html>
